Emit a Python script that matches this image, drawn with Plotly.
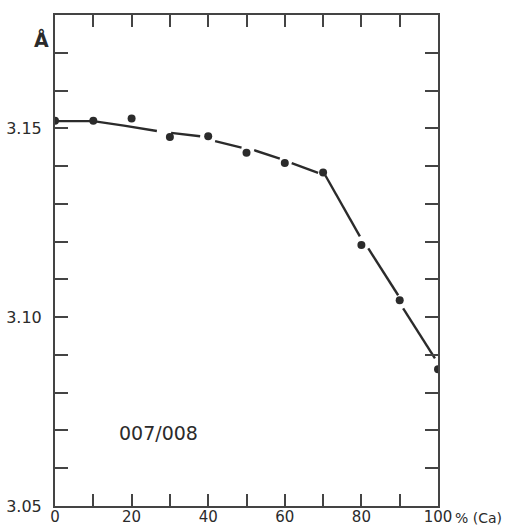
import plotly.graph_objects as go

# Measured points (% Ca vs spacing in Å)
ca_pct = [0, 10, 20, 30, 40, 50, 60, 70, 80, 90, 100]
spacing = [3.1520, 3.1520, 3.1526, 3.1477, 3.1479, 3.1435, 3.1408, 3.1383, 3.1191, 3.1045, 3.0862]

# Hand-drawn fitted curve, broken into segments (None = gap)
curve_x = [0, 10, 18, 26.6, None,
           30.3, 34, 37.9, None,
           41.8, 48.7, None,
           52.0, 58.7, None,
           61.8, 68.7, None,
           70.6, 79.6, None,
           81.8, 89.6, None,
           90.9, 99.2]
curve_y = [3.1519, 3.1519, 3.1507, 3.1493, None,
           3.1488, 3.1484, 3.1479, None,
           3.1466, 3.1449, None,
           3.1442, 3.1420, None,
           3.1408, 3.1382, None,
           3.1375, 3.1214, None,
           3.1182, 3.1058, None,
           3.1023, 3.0891]

x_tickvals = [0, 10, 20, 30, 40, 50, 60, 70, 80, 90, 100]
x_ticktext = ["0", "", "20", "", "40", "", "60", "", "80", "", "100"]
y_tickvals = [3.05, 3.06, 3.07, 3.08, 3.09, 3.10, 3.11, 3.12, 3.13, 3.14, 3.15, 3.16, 3.17, 3.18]
y_ticktext = ["3.05", "", "", "", "", "3.10", "", "", "", "", "3.15", "", "", ""]

ink = "#2b2b2b"
font_family = "DejaVu Sans, Liberation Sans, Arial, sans-serif"

fig = go.Figure()
fig.add_trace(go.Scatter(x=curve_x, y=curve_y, mode="lines",
                         line=dict(color=ink, width=2.4), connectgaps=False,
                         hoverinfo="skip", showlegend=False))
fig.add_trace(go.Scatter(x=ca_pct, y=spacing, mode="markers",
                         marker=dict(color=ink, size=8), showlegend=False))

axis_common = dict(showgrid=False, zeroline=False, showline=True, linecolor="#444",
                   linewidth=2, mirror="ticks", ticks="inside", tickcolor="#444",
                   tickwidth=1.5, automargin=False)

fig.update_xaxes(range=[0, 100], tickmode="array", tickvals=x_tickvals,
                 ticktext=x_ticktext, ticklen=12, ticklabelstandoff=-4,
                 tickfont=dict(family=font_family, size=15, color=ink), **axis_common)
fig.update_yaxes(range=[3.05, 3.18], tickmode="array", tickvals=y_tickvals,
                 ticktext=y_ticktext, ticklen=13, ticklabelstandoff=8,
                 tickfont=dict(family=font_family, size=16, color=ink), **axis_common)

fig.add_annotation(x=100, y=3.05, xref="x", yref="y", text="% (Ca)", showarrow=False,
                   xanchor="left", yanchor="top", xshift=15, yshift=-2,
                   font=dict(family=font_family, size=14, color=ink))
fig.add_annotation(x=26.9, y=3.0693, xref="x", yref="y", text="007/008", showarrow=False,
                   font=dict(family=font_family, size=19, color=ink))
fig.add_annotation(x=-0.06, y=0.977, xref="paper", yref="paper", text="<b>Å</b>",
                   showarrow=False, font=dict(family=font_family, size=19, color=ink))

fig.update_layout(width=509, height=528, margin=dict(l=55, r=71, t=15, b=22),
                  plot_bgcolor="white", paper_bgcolor="white")

fig.write_html("out.html", config={"displayModeBar": False},
               post_script="document.body.style.margin='0';")
